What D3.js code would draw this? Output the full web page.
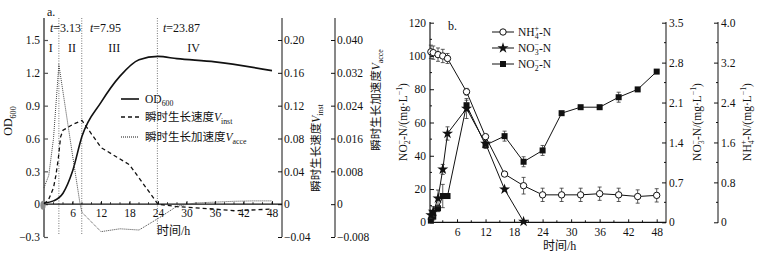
<!DOCTYPE html>
<html><head><meta charset="utf-8">
<script src="https://cdn.jsdelivr.net/npm/d3@7"></script>
<style>
body{margin:0;background:#fff}
text{font-family:"Liberation Serif","Noto Sans CJK SC",serif;fill:#111}
</style></head><body>
<svg id="chart" width="767" height="259"></svg>
<script>
// ---- panel a data ----
var odT=[0,2,4,6,8,12,16,20,24,28,36,48];
var odV=[0.01,0.03,0.1,0.3,0.62,0.93,1.17,1.32,1.35,1.33,1.30,1.22];
var viT=[0,1,2,2.5,3,3.5,4,6,8,12,18,24,28,36,40,48];
var viV=[0,0.006,0.02,0.035,0.055,0.082,0.09,0.097,0.102,0.069,0.048,0,-0.003,-0.006,-0.008,-0.006];
var vaT=[0,1,2,3.13,6,7.6,8,12,16,20,24,28,32,36,40,44,48];
var vaV=[0.004,0.007,0.016,0.034,0.012,0,-0.002,-0.0067,-0.006,-0.0063,-0.0035,-0.0005,0.0003,0.0005,0.0007,0.0008,0.0008];
var phaseT=[3.13,7.95,23.87];
var phaseT_lab=["3.13","7.95","23.87"];
var phaseNames=["I","II","III","IV"];
var phaseMid=[1.4,5.9,14.8,31.5];
var odTicks=[-0.3,0,0.3,0.6,0.9,1.2,1.5];
var viTicks=[-0.04,0,0.04,0.08,0.12,0.16,0.20];
var vaTicks=[-0.008,0,0.008,0.016,0.024,0.032,0.040];
var hourTicks=[6,12,18,24,30,36,42,48];

// ---- panel b data ----
var bT=[0.5,1,2,3,4,8,12,16,20,24,28,32,36,40,44,48];
var nh4=[102.5,102,100.8,100,98.5,78.5,51.5,29,22,16.5,16.5,16.5,17.2,16.5,15.5,16.2];
var nh4Err=[4,4,4,4,3,2,1,1,5,4,4,4,4,4,4,4];
var no3T=[0.5,1,2,3,4,8,12,16,20];
var no3=[4.4,6.4,14.4,31.8,53.4,68.4,47.4,19.8,0.4];
var no3Err=[2,3,5,3,4,6,2,1,0];
var no2=[1,3.4,8.4,15.8,15.8,70.4,46.4,51.8,36.4,43.2,65.6,69.2,69.2,75.2,79.9,90.6];
var no2Err=[1,2,2,7,1,3,2,3,3,3,1,1,1,3,1,1];
var leftTicksB=[0,20,40,60,80,100,120];
var no3Ticks=[0,0.7,1.4,2.1,2.8,3.5];
var nh4Ticks=[0,0.8,1.6,2.4,3.2,4.0];

var svg=d3.select("#chart");
svg.append("rect").attr("width",767).attr("height",259).attr("fill","#fff");

// rich text with sub/sup/italic parts
function rich(t,parts,fs){
  var off=0;
  t.attr("font-size",fs);
  parts.forEach(function(p){
    var s=t.append("tspan").text(p[0]);
    var target=p[1]=="sub"?fs*0.3:(p[1]=="sup"?-fs*0.4:0);
    if(target!==off){s.attr("dy",target-off);off=target;}
    if(p[1]=="sub"||p[1]=="sup") s.attr("font-size",fs*0.68);
    if(p[1]=="it") s.attr("font-style","italic");
    if(p[2]) s.attr("dx",p[2]);
  });
  return t;
}

function styleAxis(g,col,w){
  g.select(".domain").remove();
  g.selectAll(".tick line").attr("stroke",col||"#111").attr("stroke-width",w||1);
  g.selectAll(".tick text").attr("font-size",11.5).attr("font-family","Liberation Serif").attr("fill","#111");
}

// ================= panel a =================
var x1=d3.scaleLinear().domain([0,48]).range([44,272]);
var yOD=d3.scaleLinear().domain([-0.3,1.5]).range([237,40]);
var yVi=d3.scaleLinear().domain([-0.04,0.20]).range([237,40]);
var yVa=d3.scaleLinear().domain([-0.008,0.040]).range([237,40]);

// phase lines
svg.selectAll(".phase").data(phaseT).enter().append("line")
  .attr("x1",d=>x1(d)).attr("x2",d=>x1(d)).attr("y1",18).attr("y2",234)
  .attr("stroke","#666").attr("stroke-width",0.9).attr("stroke-dasharray","1,1.5");

// left axis
svg.append("line").attr("x1",44).attr("x2",44).attr("y1",18).attr("y2",237)
  .attr("stroke","#777").attr("stroke-width",2);
var gOD=svg.append("g").attr("transform","translate(44,0)")
  .call(d3.axisLeft(yOD).tickValues(odTicks).tickSizeInner(-4).tickSizeOuter(0).tickPadding(4)
  .tickFormat(d=>d===0?"0":d3.format(".1f")(d)));
styleAxis(gOD,"#555",1.2);

// zero line / x axis
svg.append("line").attr("x1",44).attr("x2",282).attr("y1",yOD(0)).attr("y2",yOD(0))
  .attr("stroke","#111").attr("stroke-width",1.3);
var gx1=svg.append("g").attr("transform","translate(0,"+yOD(0)+")")
  .call(d3.axisBottom(x1).tickValues(hourTicks).tickSizeInner(-3).tickSizeOuter(0).tickPadding(5));
styleAxis(gx1);
svg.selectAll(".minA").data(d3.range(0,49,2)).enter().append("line")
  .attr("x1",d=>x1(d)).attr("x2",d=>x1(d)).attr("y1",yOD(0)).attr("y2",yOD(0)-2)
  .attr("stroke","#111").attr("stroke-width",0.8);
svg.append("ellipse").attr("cx",x1(0)-1).attr("cy",yOD(0)+1).attr("rx",2.6).attr("ry",4.5).attr("fill","#8a8a8a");

// right axes of panel a
svg.append("line").attr("x1",282).attr("x2",282).attr("y1",18).attr("y2",237).attr("stroke","#111");
var gVi=svg.append("g").attr("transform","translate(282,0)")
  .call(d3.axisRight(yVi).tickValues(viTicks).tickSizeInner(-4).tickSizeOuter(0).tickPadding(2)
  .tickFormat(d=>d===0?"0":d3.format(".2f")(d)));
styleAxis(gVi);
svg.append("line").attr("x1",335).attr("x2",335).attr("y1",18).attr("y2",237).attr("stroke","#111");
var gVa=svg.append("g").attr("transform","translate(335,0)")
  .call(d3.axisRight(yVa).tickValues(vaTicks).tickSizeInner(-4).tickSizeOuter(0).tickPadding(2)
  .tickFormat(d=>d===0?"0":d3.format(".3f")(d)));
styleAxis(gVa);

// curves
var lineOD=d3.line().x(d=>x1(d[0])).y(d=>yOD(d[1])).curve(d3.curveMonotoneX);
var lineVi=d3.line().x(d=>x1(d[0])).y(d=>yVi(d[1]));
var lineVa=d3.line().x(d=>x1(d[0])).y(d=>yVa(d[1]));
svg.append("path").datum(d3.zip(odT,odV)).attr("d",lineOD).attr("fill","none").attr("stroke","#111").attr("stroke-width",1.6);
svg.append("path").datum(d3.zip(viT,viV)).attr("d",lineVi).attr("fill","none").attr("stroke","#111").attr("stroke-width",1.3).attr("stroke-dasharray","4,3");
svg.append("path").datum(d3.zip(vaT,vaV)).attr("d",lineVa).attr("fill","none").attr("stroke","#444").attr("stroke-width",1).attr("stroke-dasharray","1,1");

// labels panel a
svg.append("text").attr("x",47).attr("y",16).attr("font-size",12).text("a.");
phaseT.forEach(function(t,i){
  var xx=[50,90,163][i];
  rich(svg.append("text").attr("x",xx).attr("y",32),[["t","it"],["="+phaseT_lab[i]]],12);
});
phaseNames.forEach(function(n,i){
  svg.append("text").attr("x",x1(phaseMid[i])).attr("y",52).attr("text-anchor","middle").attr("font-size",12).text(n);
});
rich(svg.append("text").attr("transform","translate(12,121) rotate(-90)").attr("text-anchor","middle"),[["OD"],["600","sub"]],12);
rich(svg.append("text").attr("transform","translate(320,148) rotate(-90)").attr("text-anchor","middle"),[["瞬时生长速度"],["V","it"],["inst","sub"]],11.5);
rich(svg.append("text").attr("transform","translate(380,100) rotate(-90)").attr("text-anchor","middle"),[["瞬时生长加速度"],["V","it"],["acce","sub"]],11.5);
svg.append("text").attr("x",157).attr("y",235).attr("font-size",12).text("时间/h");

// legend panel a
var legA=[{dash:null,w:1.6,y:99,parts:[["OD"],["600","sub"]]},
          {dash:"4,3",w:1.3,y:117,parts:[["瞬时生长速度"],["V","it"],["inst","sub"]]},
          {dash:"1,1",w:1,y:137,parts:[["瞬时生长加速度"],["V","it"],["acce","sub"]]}];
legA.forEach(function(l){
  svg.append("line").attr("x1",121).attr("x2",139).attr("y1",l.y).attr("y2",l.y)
    .attr("stroke","#111").attr("stroke-width",l.w).attr("stroke-dasharray",l.dash);
  rich(svg.append("text").attr("x",145).attr("y",l.y+4),l.parts,11.5);
});

// ================= panel b =================
var x2=d3.scaleLinear().domain([0,48]).range([428.5,656.7]);
var y2=d3.scaleLinear().domain([0,120]).range([222.3,22.7]);
var yNO3=d3.scaleLinear().domain([0,3.5]).range([222.3,22.7]);
var yNH4=d3.scaleLinear().domain([0,4.0]).range([222.3,22.7]);

svg.append("line").attr("x1",430).attr("x2",430).attr("y1",22).attr("y2",223).attr("stroke","#777").attr("stroke-width",2);
var gB=svg.append("g").attr("transform","translate(430,0)")
  .call(d3.axisLeft(y2).tickValues(leftTicksB).tickSizeInner(-4).tickSizeOuter(0).tickPadding(4));
styleAxis(gB,"#111",1);
svg.selectAll(".minB").data(d3.range(10,120,20)).enter().append("line")
  .attr("x1",430).attr("x2",432).attr("y1",d=>y2(d)).attr("y2",d=>y2(d)).attr("stroke","#111");

svg.append("line").attr("x1",430).attr("x2",666).attr("y1",y2(0)).attr("y2",y2(0)).attr("stroke","#111").attr("stroke-width",1.2);
var gx2=svg.append("g").attr("transform","translate(0,"+y2(0)+")")
  .call(d3.axisBottom(x2).tickValues(hourTicks).tickSizeInner(-3).tickSizeOuter(0).tickPadding(6));
styleAxis(gx2);
svg.selectAll(".minX2").data(d3.range(3,49,6)).enter().append("line")
  .attr("x1",d=>x2(d)).attr("x2",d=>x2(d)).attr("y1",y2(0)).attr("y2",y2(0)-2).attr("stroke","#111");

function rightAxis(xp,scale,ticks,minor){
  svg.append("line").attr("x1",xp).attr("x2",xp).attr("y1",22).attr("y2",223).attr("stroke","#111");
  var g=svg.append("g").attr("transform","translate("+xp+",0)")
    .call(d3.axisRight(scale).tickValues(ticks).tickSizeInner(-4).tickSizeOuter(0).tickPadding(3)
    .tickFormat(d=>d===0?"0":d3.format(".1f")(d)));
  styleAxis(g);
  svg.selectAll(null).data(minor).enter().append("line")
    .attr("x1",xp-2).attr("x2",xp).attr("y1",d=>scale(d)).attr("y2",d=>scale(d)).attr("stroke","#111");
}
rightAxis(666,yNO3,no3Ticks,[0.35,1.05,1.75,2.45,3.15]);
rightAxis(718,yNH4,nh4Ticks,[0.4,1.2,2.0,2.8,3.6]);

// series
var lineB=d3.line().x(d=>x2(d[0])).y(d=>y2(d[1]));
function series(ts,vs,es,sym){
  var pts=d3.zip(ts,vs,es);
  svg.append("path").datum(pts).attr("d",lineB).attr("fill","none").attr("stroke","#111").attr("stroke-width",1);
  var g=svg.append("g");
  pts.forEach(function(p){
    if(p[2]>0){
      var xx=x2(p[0]),a=y2(p[1]-p[2]),b=y2(p[1]+p[2]);
      g.append("line").attr("x1",xx).attr("x2",xx).attr("y1",a).attr("y2",b).attr("stroke","#333").attr("stroke-width",0.8);
      g.append("line").attr("x1",xx-2).attr("x2",xx+2).attr("y1",a).attr("y2",a).attr("stroke","#333").attr("stroke-width",0.8);
      g.append("line").attr("x1",xx-2).attr("x2",xx+2).attr("y1",b).attr("y2",b).attr("stroke","#333").attr("stroke-width",0.8);
    }
  });
  pts.forEach(function(p){drawSym(g,sym,x2(p[0]),y2(p[1]));});
}
function drawSym(g,sym,x,y){
  if(sym=="circle") g.append("circle").attr("cx",x).attr("cy",y).attr("r",3.2).attr("fill","#fff").attr("stroke","#111").attr("stroke-width",1);
  else if(sym=="square") g.append("rect").attr("x",x-3).attr("y",y-3).attr("width",6).attr("height",6).attr("fill","#111");
  else g.append("path").attr("transform","translate("+x+","+y+")").attr("d",d3.symbol(d3.symbolStar,38)()).attr("fill","#111");
}
series(bT,no2,no2Err,"square");
series(no3T,no3,no3Err,"star");
series(bT,nh4,nh4Err,"circle");

// labels panel b
svg.append("text").attr("x",448).attr("y",30).attr("font-size",12).text("b.");
svg.append("text").attr("x",543).attr("y",250).attr("font-size",12).text("时间/h");
rich(svg.append("text").attr("transform","translate(407,122) rotate(-90)").attr("text-anchor","middle"),
  [["NO"],["2","sub"],["−","sup",-4],["-N/(mg·L"],["−1","sup"],[")"]],11.5);
rich(svg.append("text").attr("transform","translate(701,122) rotate(-90)").attr("text-anchor","middle"),
  [["NO"],["3","sub"],["−","sup",-4],["-N/(mg·L"],["−1","sup"],[")"]],11.5);
rich(svg.append("text").attr("transform","translate(751,122) rotate(-90)").attr("text-anchor","middle"),
  [["NH"],["4","sub"],["+","sup",-4],["-N/(mg·L"],["−1","sup"],[")"]],11.5);

var legB=[{sym:"circle",y:32,parts:[["NH"],["4","sub"],["+","sup",-4],["-N"]]},
          {sym:"star",y:48,parts:[["NO"],["3","sub"],["−","sup",-4],["-N"]]},
          {sym:"square",y:64,parts:[["NO"],["2","sub"],["−","sup",-4],["-N"]]}];
legB.forEach(function(l){
  svg.append("line").attr("x1",492).attr("x2",514).attr("y1",l.y).attr("y2",l.y).attr("stroke","#111");
  drawSym(svg,l.sym,503,l.y);
  rich(svg.append("text").attr("x",518).attr("y",l.y+4),l.parts,11.5);
});
</script>
</body></html>
